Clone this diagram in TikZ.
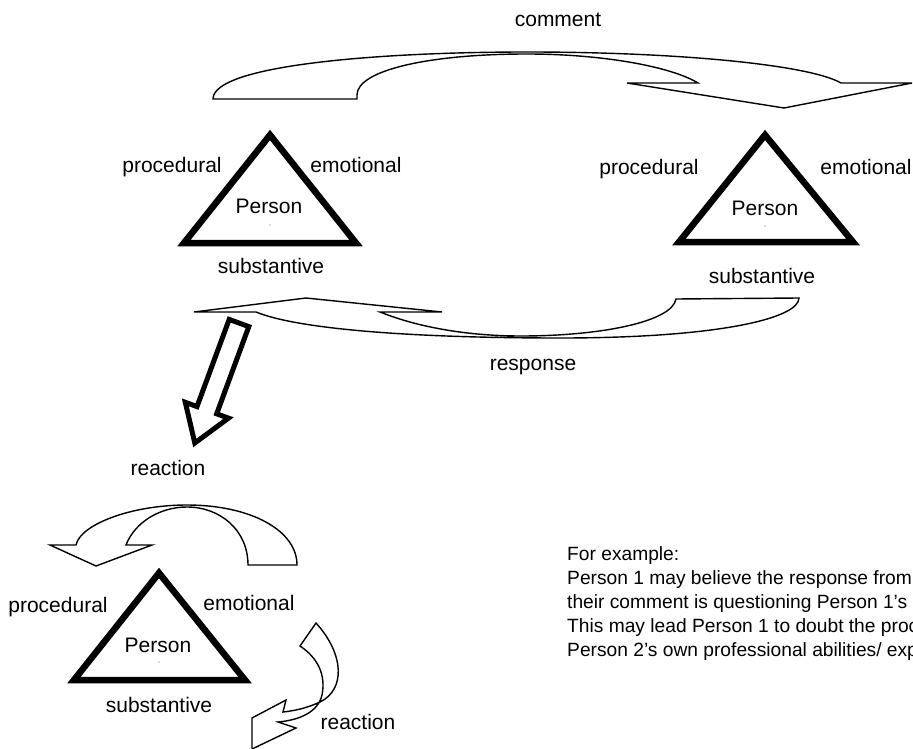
\documentclass[tikz,border=0pt]{standalone}
\usepackage{fontspec}
\setmainfont{Liberation Sans}
\begin{document}
\begin{tikzpicture}[x=1pt,y=-1pt,
  lbl/.style={font=\fontsize{21}{24}\selectfont, inner sep=0pt, anchor=base},
  body/.style={font=\fontsize{19.2}{24}\selectfont, inner sep=0pt, anchor=base west},
  tri/.style={draw, line width=6.5pt, line join=miter},
  curved/.style={draw, fill=white, line width=1.4pt, line join=miter},
  blockarrow/.style={draw, fill=white, line width=5pt, line join=miter},
  dotmark/.style={fill=black!60, circle, inner sep=0pt, minimum size=1.4pt}]
\useasboundingbox (0,0) rectangle (913,749);
\clip (0,0) rectangle (913,749);

% ---- comment arrow (Person 1 -> Person 2)
\path[curved] (213,99) .. controls (213,65) and (380,52) .. (527,52)
  .. controls (680,52) and (810,65) .. (841,83) -- (912,83) -- (784,108)
  -- (627,83) -- (698,83) .. controls (670,66) and (600,54) .. (527,54)
  .. controls (430,54) and (357,70) .. (357,95) -- (357,99) -- cycle;
\node[lbl] (comment) at (558,27) {comment};

% ---- response arrow (Person 2 -> Person 1)
\path[curved] (194,312) -- (306,298) -- (442,312) -- (380,312)
  .. controls (420,328) and (470,336) .. (521,336)
  .. controls (600,336) and (672,322) .. (676,299) -- (799,298)
  .. controls (799,318) and (720,338) .. (560,338)
  .. controls (420,338) and (300,330) .. (256,312) -- cycle;
\node[lbl] (response) at (533,370) {response};

% ---- triangle: Person 1
\path[tri] (270,135) -- (356,243) -- (184,243) -- cycle;
\node[lbl] (p1) at (269,213) {Person};
\node[dotmark] (p1dot) at (270,225) {};
\node[lbl] (p1proc) at (172,172) {procedural};
\node[lbl] (p1emo) at (356,172) {emotional};
\node[lbl] (p1sub) at (271,273) {substantive};

% ---- triangle: Person 2
\path[tri] (765,135) -- (853,242) -- (679,242) -- cycle;
\node[lbl] (p2) at (765,215) {Person};
\node[dotmark] (p2dot) at (765,226) {};
\node[lbl] (p2proc) at (649,175) {procedural};
\node[lbl] (p2emo) at (866,175) {emotional};
\node[lbl] (p2sub) at (762,283) {substantive};

% ---- thick block arrow down to the reaction
\path[blockarrow] (229.2,319.4) -- (248.8,326.6) -- (216.7,413.8)
  -- (228.5,418.1) -- (194.8,443) -- (185.3,402.3) -- (197.0,406.6) -- cycle;
\node[lbl] (react1) at (168,475) {reaction};

% ---- curved arrow above Person 3
\path[curved] (297,565) .. controls (297,530) and (250,505) .. (187,505)
  .. controls (130,505) and (80,525) .. (76,545) -- (50,545) -- (96,566)
  -- (152,545) -- (126,545) .. controls (135,522) and (160,507) .. (187,507)
  .. controls (220,507) and (248,530) .. (248,565) -- cycle;

% ---- triangle: Person 3
\path[tri] (159,573) -- (245,680) -- (74,680) -- cycle;
\node[lbl] (p3) at (158,652) {Person};
\node[dotmark] (p3dot) at (159,662) {};
\node[lbl] (p3proc) at (58,612) {procedural};
\node[lbl] (p3emo) at (249,610) {emotional};
\node[lbl] (p3sub) at (159,712) {substantive};

% ---- curved arrow beside Person 3
\path[curved] (316,623) .. controls (345,655) and (345,690) .. (320,702)
  .. controls (305,709) and (292,711) .. (283,712) -- (286,700) -- (252,718)
  -- (252,749) -- (296,728) -- (278,722)
  .. controls (300,720) and (318,712) .. (322,695)
  .. controls (326,675) and (318,658) .. (300,646) -- cycle;
\node[lbl] (react2) at (358,729) {reaction};

% ---- example text
\node[body] (ex0) at (567,560) {For example:};
\node[body] (ex1) at (567,584) {Person 1 may believe the response from};
\node[body] (ex2) at (567,608) {their comment is questioning Person 1’s};
\node[body] (ex3) at (567,632) {This may lead Person 1 to doubt the proc};
\node[body] (ex4) at (567,656) {Person 2’s own professional abilities/ exp};
\end{tikzpicture}
\end{document}
